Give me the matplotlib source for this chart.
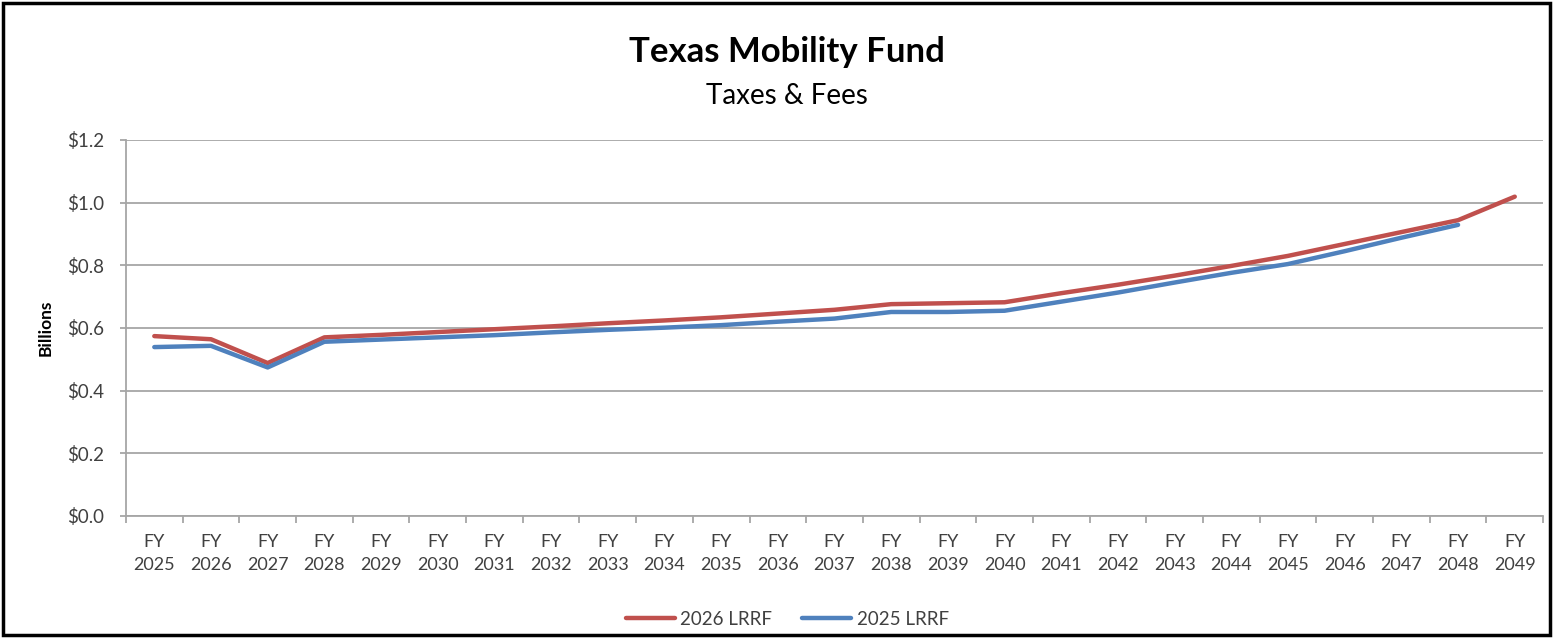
import numpy as np
import matplotlib
matplotlib.use('Agg')
import matplotlib.pyplot as plt
from matplotlib.patches import Rectangle

plt.rcParams['font.family'] = ['Lato', 'DejaVu Sans']

# Data (billions)
years = list(range(2025, 2050))
labels = ['FY\n%d' % y for y in years]
lrrf_2026 = [0.574, 0.564, 0.488, 0.570, 0.578, 0.587, 0.596, 0.605, 0.615, 0.624, 0.634,
             0.646, 0.658, 0.676, 0.679, 0.682, 0.711, 0.738, 0.767, 0.798, 0.830,
             0.868, 0.906, 0.944, 1.019]
lrrf_2025 = [0.539, 0.543, 0.474, 0.556, 0.563, 0.570, 0.577, 0.586, 0.594, 0.601, 0.609,
             0.620, 0.630, 0.651, 0.651, 0.655, 0.684, 0.713, 0.745, 0.776, 0.804,
             0.845, 0.888, 0.929]

red = '#C0504D'
blue = '#4F81BD'
grid = '#A6A6A6'

fig = plt.figure(figsize=(15.59, 6.39), dpi=100)
ax = fig.add_axes([0.0808, 0.1925, 0.909, 0.5885])

x = np.arange(len(years))
ax.plot(x, lrrf_2026, color=red, lw=3.2, label='2026 LRRF', solid_capstyle='round', zorder=3)
ax.plot(x[:len(lrrf_2025)], lrrf_2025, color=blue, lw=3.2, label='2025 LRRF', solid_capstyle='round', zorder=3)

ax.set_xlim(-0.5, len(years) - 0.5)
ax.set_ylim(0, 1.2)
ax.set_yticks(np.arange(0, 1.21, 0.2))
ax.set_yticklabels(['$%.1f' % v for v in np.arange(0, 1.21, 0.2)], fontsize=13.5, color='#404040')
ax.yaxis.grid(True, color=grid, lw=1.3)
ax.set_axisbelow(True)

ax.set_xticks(x)
ax.set_xticklabels(labels, fontsize=13, color='#404040', linespacing=1.55)
ax.set_xticks(np.arange(-0.5, len(years), 1), minor=True)
ax.tick_params(axis='x', which='major', length=0, pad=13)
ax.tick_params(axis='x', which='minor', length=5, color=grid, width=1.3)
ax.tick_params(axis='y', length=4.5, color=grid, width=1.3, pad=11)

for s in ['top', 'right']:
    ax.spines[s].set_visible(False)
for s in ['left', 'bottom']:
    ax.spines[s].set_color(grid)
    ax.spines[s].set_linewidth(1.3)

ax.set_ylabel('Billions', fontsize=12.5, fontweight='bold', labelpad=10)

fig.text(0.505, 0.918, 'Texas Mobility Fund', ha='center', va='center', fontsize=25, fontweight='bold')
fig.text(0.505, 0.85, 'Taxes & Fees', ha='center', va='center', fontsize=20)

leg = fig.legend(loc='center', bbox_to_anchor=(0.505, 0.031), ncol=2, frameon=False,
                 fontsize=13.5, handlelength=2.6, columnspacing=1.6, handletextpad=0.3)
for t in leg.get_texts():
    t.set_color('#404040')

fig.patches.append(Rectangle((0.002, 0.006), 0.992, 0.99, transform=fig.transFigure,
                             fill=False, edgecolor='black', lw=2.5))

fig.savefig('out.png', dpi=100)
